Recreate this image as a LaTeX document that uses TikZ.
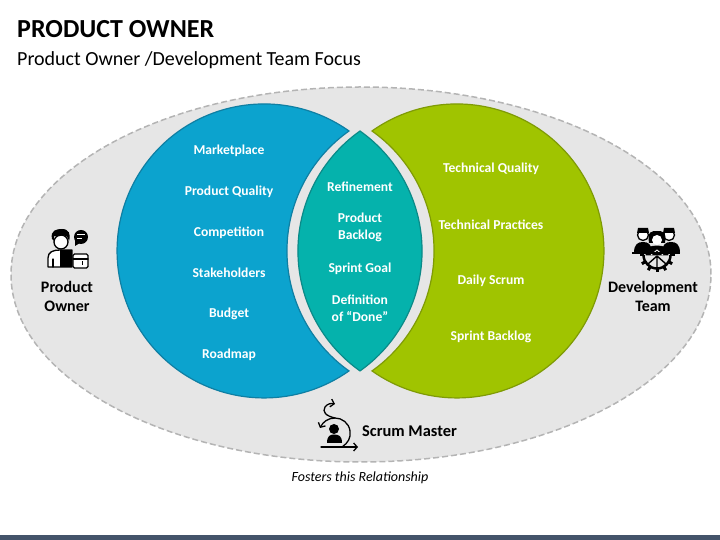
\documentclass[tikz,border=0pt]{standalone}
\usepackage{fontspec}
\usepackage{xcolor}
\usetikzlibrary{arrows.meta, positioning, calc}
\setmainfont{Carlito}
\definecolor{ringgray}{HTML}{E6E6E6}
\definecolor{dashgray}{HTML}{B4B4B4}
\definecolor{bluefill}{HTML}{0CA3CE}
\definecolor{blueline}{HTML}{0F7FA3}
\definecolor{tealfill}{HTML}{05B2AC}
\definecolor{tealline}{HTML}{0B8A88}
\definecolor{greenfill}{HTML}{A0C400}
\definecolor{greenline}{HTML}{7F9B05}
\definecolor{barblue}{HTML}{44546A}
\tikzset{
    itemtext/.style={font=\fontsize{13.6}{17}\selectfont\bfseries, text=white, align=center},
    roletext/.style={font=\fontsize{16}{18.5}\selectfont\bfseries, text=black, align=center},
    iconline/.style={draw=black, line width=1.3pt, line cap=round, line join=round},
    icontip/.style={-{Straight Barb[length=3.5pt,width=8pt]}}
}
\begin{document}
\begin{tikzpicture}[x=1pt, y=1pt]
\useasboundingbox (0,0) rectangle (720,540);
% Page bar
\fill[barblue] (0,0) rectangle (720,5);

% Title lines
\node[anchor=west, inner sep=0pt, font=\fontsize{26}{30}\selectfont\bfseries] (title) at (17,511) {PRODUCT OWNER};
\node[anchor=west, inner sep=0pt, font=\fontsize{20}{24}\selectfont] (subtitle) at (17,480) {Product Owner /Development Team Focus};

% Outer dashed ring
\draw[dashgray, fill=ringgray, line width=1.5pt, dash pattern=on 6pt off 3pt] (361,265.5) ellipse [x radius=350, y radius=187.5];

% Blue crescent
\draw[blueline, fill=bluefill, line width=1.2pt] (349,409) arc [start angle=54.7, end angle=305.3, radius=147] arc [start angle=234.7, end angle=125.3, radius=147] -- cycle;
% Green crescent
\draw[greenline, fill=greenfill, line width=1.2pt] (372,409) arc [start angle=125.3, end angle=-125.3, radius=147] arc [start angle=-54.7, end angle=54.7, radius=147] -- cycle;
% Teal lens
\draw[tealline, fill=tealfill, line width=1.2pt] (360,409) arc [start angle=125.3, end angle=234.7, radius=147] arc [start angle=-54.7, end angle=54.7, radius=147] -- cycle;

% Blue items
\foreach \i/\y/\txt in {1/389.5/Marketplace, 2/348.5/Product Quality, 3/307.5/Competition, 4/267.5/Stakeholders, 5/226.5/Budget, 6/185.5/Roadmap} {
    \node[itemtext] (blue\i) at (229,\y) {\txt};
}
% Teal items
\foreach \i/\y/\txt in {1/353/Refinement, 2/312.5/Product\\Backlog, 3/271.5/Sprint Goal, 4/231.5/Definition\\of “Done”} {
    \node[itemtext] (teal\i) at (360,\y) {\txt};
}
% Green items
\foreach \i/\y/\txt in {1/371.5/Technical Quality, 2/315.5/Technical Practices, 3/259.5/Daily Scrum, 4/203.5/Sprint Backlog} {
    \node[itemtext] (green\i) at (491,\y) {\txt};
}

% Roles
\node[roletext] (owner) at (67,243.5) {Product\\Owner};
\node[roletext] (team) at (653,243.5) {Development\\Team};
\node[roletext, anchor=west, inner sep=0pt, font=\fontsize{16.4}{19}\selectfont\bfseries] (master) at (362,109) {Scrum Master};
\node[font=\fontsize{14}{16}\selectfont\itshape] (fosters) at (360,62.5) {Fosters this Relationship};

% Product owner icon
\begin{scope}[shift={(0,540)}, yscale=-1]
\draw[iconline, fill=white] (48,267) -- (48,258) .. controls (48,252) and (53,250) .. (60,250) -- (72,250) -- (72,267) -- cycle;
\fill[black] (60,250) rectangle (72,267);
\draw[iconline, fill=white] (53,259) -- (53,267);
\draw[iconline, fill=white, rounded corners=1.5pt] (73,254) rectangle (88,268);
\draw[iconline] (73,259) -- (88,259);
\draw[black, line width=1pt] (82,265) -- (82,261);
\draw[iconline, fill=white] (61,242) circle (7);
\fill[black] (52,239) .. controls (50,230) and (57,229) .. (62,229) .. controls (69,229) and (71,234) .. (69,241) .. controls (68,237) and (66,235) .. (63,235) .. controls (59,237) and (56,236) .. (54,236) -- (54,241) -- cycle;
\fill[black] (81,237) circle (7);
\fill[black] (75,240) -- (75,246) -- (80,243) -- cycle;
\draw[white, line width=1pt] (77,235) -- (85,235) (77,239) -- (82,239);
\end{scope}

% Development team icon
\begin{scope}[shift={(0,540)}, yscale=-1]
\foreach \a in {0,30,...,180} {
    \draw[black, line width=3pt] ($(657,255)+(\a:13)$) -- ($(657,255)+(\a:17.5)$);
}
\draw[black, line width=2.5pt] (657,255) ++(180:13.5) arc [start angle=180, end angle=0, radius=13.5];
\draw[black, line width=1.4pt] (657,267) -- (657,256) (657,256) -- (648,264) (657,256) -- (666,264);
\fill[black] (634,253) .. controls (634,244) and (638,242) .. (643,242) .. controls (648,242) and (652,244) .. (652,253) -- cycle;
\fill[black] (662,253) .. controls (662,244) and (666,242) .. (671,242) .. controls (676,242) and (680,244) .. (680,253) -- cycle;
\draw[iconline, fill=white] (643,235) circle (5.5);
\draw[iconline, fill=white] (669,235) circle (5.5);
\fill[black] (637,233) -- (638,228) -- (648,228) -- (649,233) -- cycle;
\fill[black] (663,233) -- (664,228) -- (674,228) -- (675,233) -- cycle;
\draw[black, fill=black, line width=.8pt] (646,255) .. controls (646,247) and (651,246) .. (657,246) .. controls (663,246) and (668,247) .. (668,255) -- cycle;
\fill[black] (649,243) .. controls (647,231) and (652,231) .. (657,231) .. controls (662,231) and (667,231) .. (665,243) -- cycle;
\fill[white] (657,240) circle (5);
\draw[white, line width=.8pt] (651,255) -- (657,250) -- (663,255);
\draw[black, line width=1.3pt] (632,253) -- (680,253);
\end{scope}

% Scrum master icon
\begin{scope}[shift={(0,540)}, yscale=-1]
\fill[black] (334,429) circle (5);
\fill[black] (327,443) .. controls (327,436) and (330,434.5) .. (334,434.5) .. controls (339,434.5) and (342,436) .. (342,443) -- cycle;
\draw[iconline, icontip] (321,447) -- (358,447);
\draw[iconline, icontip] (342,447) .. controls (348,443) and (351,438) .. (350,431) .. controls (349,423) and (342,418) .. (335,418) .. controls (328,418) and (323,422) .. (320,428);
\draw[iconline, icontip] (335,418) .. controls (326,416) and (322,412) .. (325,407) .. controls (327,404) and (331,403) .. (335,404);
\end{scope}
\end{tikzpicture}
\end{document}
